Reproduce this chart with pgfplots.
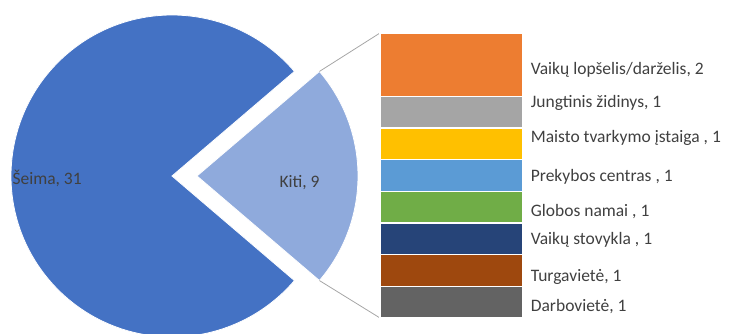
\documentclass[border=0pt]{standalone}
\usepackage{pgfplots}
\pgfplotsset{compat=1.18}
\usepackage{fontspec}
\setmainfont{Carlito}
\definecolor{seima}{HTML}{4472C4}
\definecolor{kiti}{HTML}{8FAADC}
\definecolor{cA}{HTML}{ED7D31}
\definecolor{cB}{HTML}{A5A5A5}
\definecolor{cC}{HTML}{FFC000}
\definecolor{cD}{HTML}{5B9BD5}
\definecolor{cE}{HTML}{70AD47}
\definecolor{cF}{HTML}{264478}
\definecolor{cG}{HTML}{9E480E}
\definecolor{cH}{HTML}{636363}
\definecolor{txt}{HTML}{404040}
\definecolor{conn}{HTML}{A6A6A6}
\def\seimaval{31}
\def\kitival{9}
\pgfmathsetmacro{\half}{180*\kitival/(\seimaval+\kitival)}
\pgfmathsetmacro{\sEnd}{360-\half}
\pgfmathsetmacro{\cx}{197+161*cos(\half)}
\pgfmathsetmacro{\cyU}{158+161*sin(\half)}
\pgfmathsetmacro{\cyL}{158-161*sin(\half)}
\begin{document}
\begin{tikzpicture}[font=\fontsize{17.5}{19}\selectfont]
\useasboundingbox (0,0) rectangle (739pt,334pt);
\begin{axis}[at={(0pt,0pt)}, anchor=south west, scale only axis,
  width=739pt, height=334pt, xmin=0, xmax=739, ymin=0, ymax=334,
  hide axis, clip=false]
  \fill[seima, draw=white, line width=0.8pt] (axis cs:172,158) -- ++(\half:161pt)
     arc[start angle=\half, end angle=\sEnd, radius=161pt] -- cycle;
  \fill[kiti, draw=white, line width=0.8pt] (axis cs:197,158) -- ++(-\half:161pt)
     arc[start angle=-\half, end angle=\half, radius=161pt] -- cycle;
  \draw[conn, line width=0.8pt] (axis cs:\cx,\cyU) -- (axis cs:380,301);
  \draw[conn, line width=0.8pt] (axis cs:\cx,\cyL) -- (axis cs:380,16);
  \node[anchor=west, text=txt] at (axis cs:9,156) {Šeima, 31};
  \node[anchor=west, text=txt] at (axis cs:276,151) {Kiti, 9};
\end{axis}
\begin{axis}[at={(380pt,16pt)}, anchor=south west, scale only axis,
  width=143pt, height=285pt, xmin=-0.5, xmax=0.5, ymin=0, ymax=9,
  hide axis, clip=false, ybar stacked, bar width=143pt]
  \addplot[fill=cH, draw=white, line width=1.2pt] coordinates {(0,1)};
  \addplot[fill=cG, draw=white, line width=1.2pt] coordinates {(0,1)};
  \addplot[fill=cF, draw=white, line width=1.2pt] coordinates {(0,1)};
  \addplot[fill=cE, draw=white, line width=1.2pt] coordinates {(0,1)};
  \addplot[fill=cD, draw=white, line width=1.2pt] coordinates {(0,1)};
  \addplot[fill=cC, draw=white, line width=1.2pt] coordinates {(0,1)};
  \addplot[fill=cB, draw=white, line width=1.2pt] coordinates {(0,1)};
  \addplot[fill=cA, draw=white, line width=1.2pt] coordinates {(0,2)};
  \node[anchor=west, text=txt] at (axis cs:0.53,0.35) {Darbovietė, 1};
  \node[anchor=west, text=txt] at (axis cs:0.53,1.29) {Turgavietė, 1};
  \node[anchor=west, text=txt] at (axis cs:0.53,2.46) {Vaikų stovykla , 1};
  \node[anchor=west, text=txt] at (axis cs:0.53,3.35) {Globos namai , 1};
  \node[anchor=west, text=txt] at (axis cs:0.53,4.45) {Prekybos centras , 1};
  \node[anchor=west, text=txt] at (axis cs:0.53,5.68) {Maisto tvarkymo įstaiga , 1};
  \node[anchor=west, text=txt] at (axis cs:0.53,6.79) {Jungtinis židinys, 1};
  \node[anchor=west, text=txt] at (axis cs:0.53,7.83) {Vaikų lopšelis/darželis, 2};
\end{axis}
\end{tikzpicture}
\end{document}
